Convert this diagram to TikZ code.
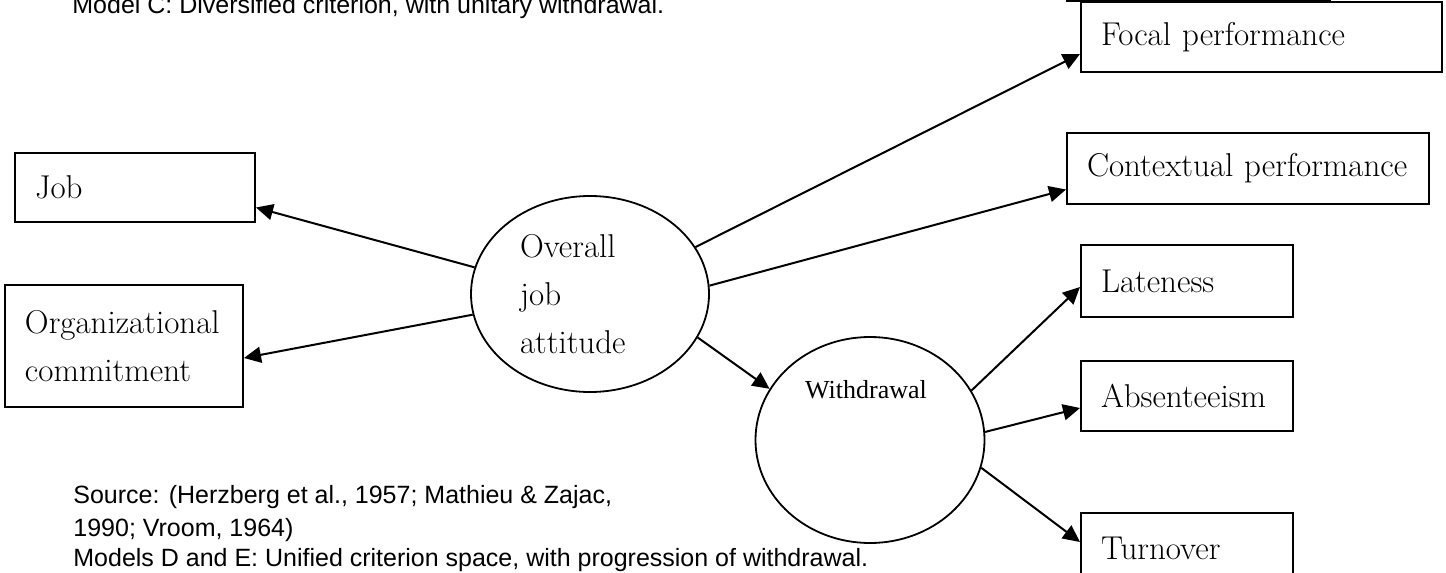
\documentclass[tikz,border=0pt]{standalone}
\usepackage{fontspec}
\usepackage{tikz}
\usetikzlibrary{shapes,arrows.meta,positioning,calc}
\newfontfamily\capfont{Liberation Sans}
\newfontfamily\wdfont{Liberation Serif}

\begin{document}
\begin{tikzpicture}[x=0.5pt, y=-0.5pt,
        box/.style={draw, line width=1pt, rectangle, inner xsep=10pt, inner ysep=0pt, align=left, font=\fontsize{16.5}{24}\selectfont},
        blob/.style={draw, line width=0.9pt, ellipse, inner sep=0pt},
        link/.style={line width=1pt, -{Triangle[length=8.5pt, width=8pt]}},
        caption/.style={anchor=base west, inner sep=0pt, font=\capfont\fontsize{12.5}{15.5}\selectfont}]
        % Frame
        \useasboundingbox (0,0) rectangle (1446,573);
        \clip (0,0) rectangle (1446,573);
        \draw[line width=1pt] (1067,-60) rectangle (1330,1);

        % Captions
        \node[caption] (modelc) at (72,13) {Model C: Diversified criterion, with unitary withdrawal.};
        \node[caption] (src1) at (73,503) {Source: (Herzberg et al., 1957; Mathieu \& Zajac,};
        \node[caption] (src2) at (73,536) {1990; Vroom, 1964)};
        \node[caption] (models) at (73,566) {Models D and E: Unified criterion space, with progression of withdrawal.};

        % Attitudes
        \node[box, text width=100pt, minimum height=34.5pt] (job) at (135,187.5) {Job};
        \node[box, text width=99pt, minimum height=61pt] (org) at (124,346) {Organizational\\commitment};
        \node[blob, minimum width=119pt, minimum height=98pt, align=left, text width=70pt,
            font=\fontsize{16.5}{24}\selectfont] (ov) at (590,294) {Overall\\job\\attitude};

        % Criteria
        \node[box, text width=160.5pt, minimum height=35pt] (focal) at (1261.5,37) {Focal performance};
        \node[box, text width=161pt, minimum height=35.5pt] (ctx) at (1248,168.5) {Contextual performance};
        \node[blob, minimum width=114.5pt, minimum height=103pt] (wd) at (870,440) {};
        \node[font=\wdfont\fontsize{13}{15}\selectfont] (wdlabel) at (866,390) {Withdrawal};
        \node[box, text width=86pt, minimum height=36pt] (late) at (1187,281) {Lateness};
        \node[box, text width=86pt, minimum height=35pt] (abs) at (1187,396) {Absenteeism};
        \node[box, text width=86pt, minimum height=35pt] (turn) at (1187,548) {Turnover};

        % Arrows
        \draw[link] (ov.167) -- ($(job.east)+(0,20)$);
        \draw[link] (ov.190.6) -- ($(org.east)+(0,12)$);
        \draw[link] (ov.24.8) -- ($(focal.west)+(0,17)$);
        \draw[link] (ov.4.8) -- ($(ctx.west)+(0,21)$);
        \draw[link] (ov.-22.6) -- (wd.153);
        \draw[link] (wd.26.6) -- ($(late.west)+(0,6)$);
        \draw[link] (wd.4) -- ($(abs.west)+(0,12)$);
        \draw[link] (wd.-14.4) -- ($(turn.west)+(0,-6)$);
    \end{tikzpicture}
\end{document}
